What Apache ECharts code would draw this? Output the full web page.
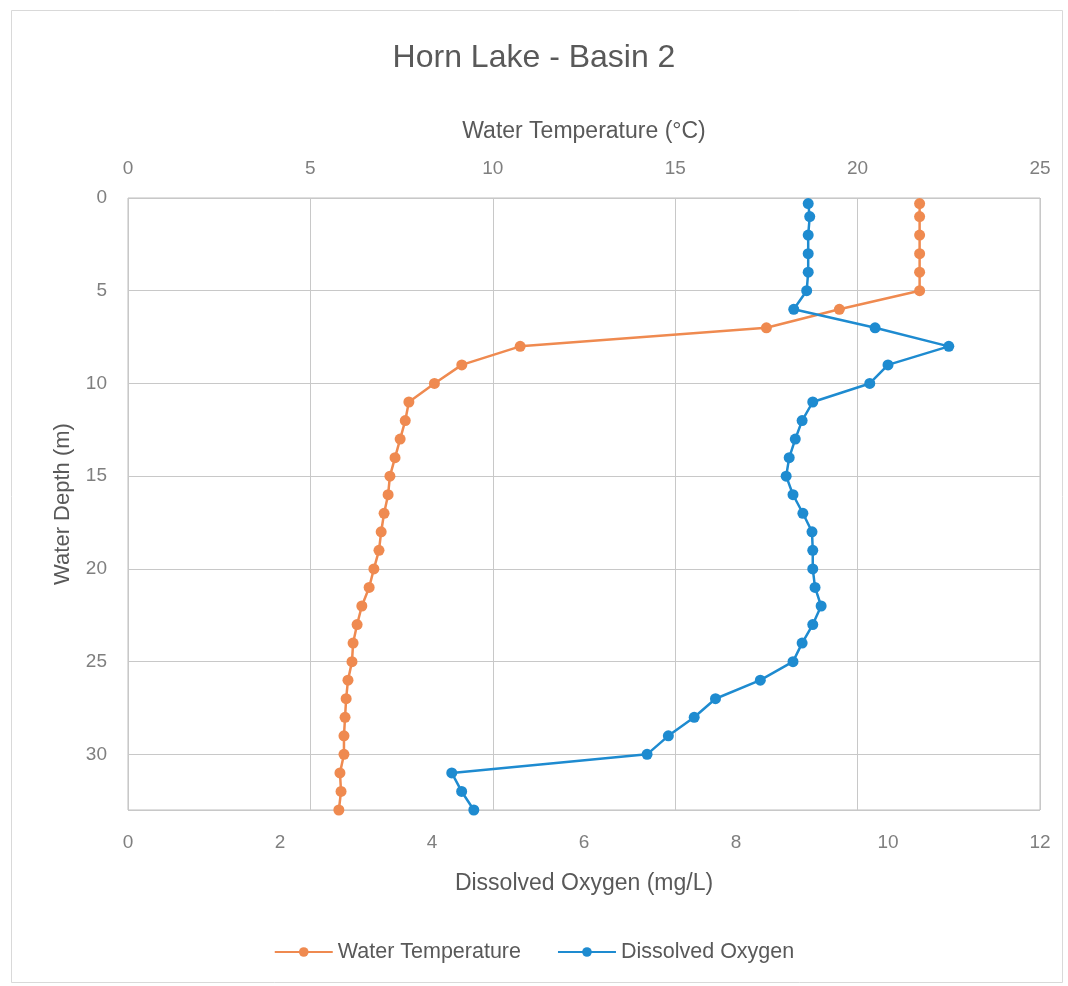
<!DOCTYPE html>
<html>
<head>
<meta charset="utf-8">
<script src="https://cdn.jsdelivr.net/npm/echarts@6/dist/echarts.min.js"></script>
<style>
html,body{margin:0;padding:0;background:#fff;}
#chart{width:1068px;height:986px;}
</style>
</head>
<body>
<div id="chart"></div>
<script>
// Data
const depths = [0.3, 1, 2, 3, 4, 5, 6, 7, 8, 9, 10, 11, 12, 13, 14, 15, 16, 17, 18, 19, 20, 21, 22, 23, 24, 25, 26, 27, 28, 29, 30, 31, 32, 33];
const waterTemperature = [21.7, 21.7, 21.7, 21.7, 21.7, 21.7, 19.5, 17.5, 10.75, 9.15, 8.4, 7.7, 7.6, 7.46, 7.32, 7.18, 7.13, 7.02, 6.94, 6.88, 6.74, 6.61, 6.41, 6.28, 6.17, 6.14, 6.03, 5.98, 5.95, 5.92, 5.92, 5.81, 5.84, 5.78];
const dissolvedOxygen = [8.95, 8.97, 8.95, 8.95, 8.95, 8.93, 8.76, 9.83, 10.8, 10.0, 9.76, 9.01, 8.87, 8.78, 8.70, 8.66, 8.75, 8.88, 9.0, 9.01, 9.01, 9.04, 9.12, 9.01, 8.87, 8.75, 8.32, 7.73, 7.45, 7.11, 6.83, 4.26, 4.39, 4.55];
const seriesNames = ['Water Temperature', 'Dissolved Oxygen'];
const titleText = 'Horn Lake - Basin 2';
const tempAxisName = 'Water Temperature (°C)';
const doAxisName = 'Dissolved Oxygen (mg/L)';
const depthAxisName = 'Water Depth (m)';

const FONT = 'Liberation Sans, Arial, sans-serif';
const chart = echarts.init(document.getElementById('chart'), null, {renderer: 'canvas'});
const tempData = depths.map((d, i) => [waterTemperature[i], d]);
const doData = depths.map((d, i) => [dissolvedOxygen[i], d]);

chart.setOption({
  animation: false,
  backgroundColor: '#ffffff',
  textStyle: {fontFamily: FONT},
  graphic: [{
    type: 'rect', left: 9, top: 8,
    shape: {width: 1051, height: 972},
    style: {fill: 'none', stroke: '#d9d9d9', lineWidth: 1}
  }],
  title: {
    text: titleText, left: 'center', top: 37,
    textStyle: {fontFamily: FONT, fontSize: 32, fontWeight: 'normal', color: '#595959'}
  },
  grid: {left: 128, right: 28, top: 198, bottom: 176, show: true, borderColor: '#bfbfbf', borderWidth: 1},
  legend: {
    bottom: 18, left: 'center',
    itemWidth: 58, itemHeight: 12, itemGap: 36,
    textStyle: {fontFamily: FONT, fontSize: 21.5, color: '#595959'},
    data: seriesNames
  },
  xAxis: [{
    type: 'value', position: 'top', min: 0, max: 25, interval: 5,
    name: tempAxisName, nameLocation: 'middle', nameGap: 55,
    nameTextStyle: {fontFamily: FONT, fontSize: 23, color: '#595959'},
    axisLine: {show: false}, axisTick: {show: false},
    axisLabel: {margin: 20, fontSize: 19, color: '#7f7f7f', fontFamily: FONT},
    splitLine: {show: true, lineStyle: {color: '#c8c8c8', width: 1}}
  }, {
    type: 'value', position: 'bottom', min: 0, max: 12, interval: 2,
    name: doAxisName, nameLocation: 'middle', nameGap: 62,
    nameTextStyle: {fontFamily: FONT, fontSize: 23, color: '#595959'},
    axisLine: {show: false}, axisTick: {show: false},
    axisLabel: {margin: 23, fontSize: 19, color: '#7f7f7f', fontFamily: FONT},
    splitLine: {show: false}
  }],
  yAxis: {
    type: 'value', inverse: true, min: 0, max: 33, interval: 5,
    name: depthAxisName, nameLocation: 'middle', nameGap: 54, nameRotate: 90,
    nameTextStyle: {fontFamily: FONT, fontSize: 22, color: '#595959'},
    axisLine: {show: false}, axisTick: {show: false},
    axisLabel: {margin: 21, fontSize: 19, color: '#7f7f7f', fontFamily: FONT, showMaxLabel: false},
    splitLine: {show: true, lineStyle: {color: '#c8c8c8', width: 1}}
  },
  series: [{
    name: seriesNames[0], type: 'line', xAxisIndex: 0, data: tempData,
    symbol: 'circle', symbolSize: 11,
    lineStyle: {color: '#EF8A50', width: 2.5},
    itemStyle: {color: '#EF8A50'}
  }, {
    name: seriesNames[1], type: 'line', xAxisIndex: 1, data: doData,
    symbol: 'circle', symbolSize: 11,
    lineStyle: {color: '#1E8BD0', width: 2.5},
    itemStyle: {color: '#1E8BD0'}
  }]
});
</script>
</body>
</html>
